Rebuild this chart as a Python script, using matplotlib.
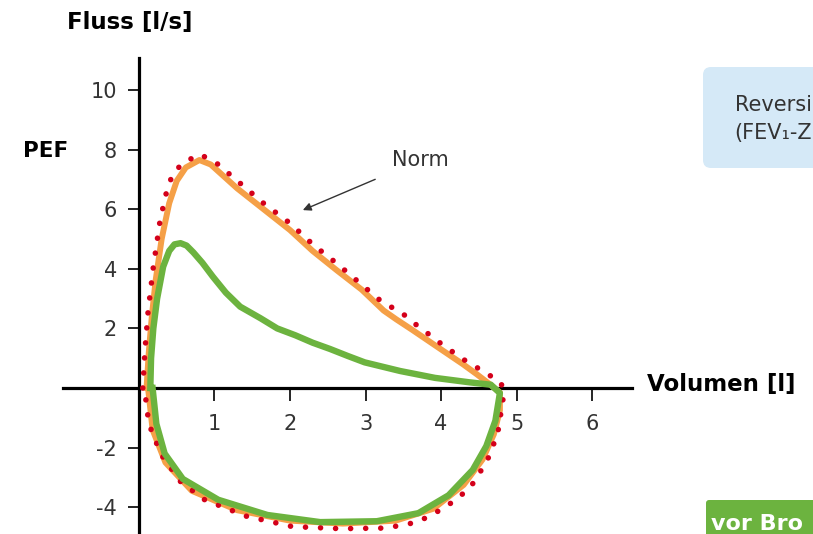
import numpy as np
import matplotlib
matplotlib.use("Agg")
from matplotlib import pyplot as plt
from matplotlib.patches import FancyBboxPatch
from matplotlib.transforms import IdentityTransform

plt.rcParams["axes.unicode_minus"] = False

# flow-volume loops (volume [l], flow [l/s])
norm_vol = [0.10, 0.13, 0.17, 0.22, 0.30, 0.40, 0.50, 0.62, 0.80, 0.95, 1.30, 1.65, 2.00,
            2.30, 2.62, 2.95, 3.24, 3.41, 3.62, 3.94, 4.29, 4.48, 4.66,
            4.78, 4.78, 4.70, 4.55, 4.30, 3.90, 3.40, 2.70, 2.00, 1.30, 0.70, 0.35, 0.18, 0.12]
norm_flow = [0.0, 1.2, 2.4, 3.6, 5.0, 6.2, 6.95, 7.4, 7.65, 7.5, 6.7, 6.0, 5.3,
             4.6, 3.95, 3.3, 2.6, 2.3, 1.95, 1.4, 0.8, 0.45, 0.1,
             -0.15, -0.75, -1.55, -2.4, -3.25, -4.05, -4.45, -4.55, -4.45, -4.1, -3.45, -2.5, -1.4, 0.0]

ref_vol = [0.05, 0.08, 0.12, 0.19, 0.28, 0.37, 0.45, 0.59, 0.81, 1.03, 1.34, 1.65, 2.00,
           2.31, 2.62, 2.93, 3.24, 3.46, 3.62, 3.78, 3.94, 4.10, 4.29, 4.48, 4.66, 4.80,
           4.82, 4.75, 4.61, 4.38, 4.06, 3.69, 3.27, 2.67, 2.03, 1.42, 0.87, 0.55, 0.29, 0.13, 0.08, 0.05]
ref_flow = [0.0, 1.3, 2.56, 4.07, 5.64, 6.64, 7.2, 7.57, 7.84, 7.54, 6.87, 6.2, 5.53,
            4.8, 4.18, 3.51, 2.84, 2.57, 2.22, 1.92, 1.6, 1.31, 0.97, 0.68, 0.4, 0.17,
            -0.4, -1.54, -2.45, -3.37, -4.0, -4.5, -4.7, -4.72, -4.65, -4.3, -3.75, -3.14, -2.22, -1.2, -0.17, 0.0]

pat_vol = [0.15, 0.16, 0.19, 0.24, 0.32, 0.40, 0.47, 0.55, 0.63, 0.72, 0.84, 0.98, 1.15, 1.34,
           1.61, 1.83, 2.07, 2.30, 2.53, 2.76, 2.99, 3.46, 3.92, 4.38, 4.66,
           4.78, 4.72, 4.60, 4.42, 4.10, 3.70, 3.15, 2.40, 1.70, 1.05, 0.58, 0.34, 0.23, 0.18]
pat_flow = [0.0, 1.0, 2.0, 3.0, 4.07, 4.6, 4.82, 4.86, 4.78, 4.55, 4.2, 3.73, 3.2, 2.73,
            2.34, 2.0, 1.77, 1.52, 1.31, 1.08, 0.86, 0.57, 0.34, 0.19, 0.11,
            -0.17, -1.1, -1.95, -2.75, -3.6, -4.2, -4.47, -4.5, -4.26, -3.75, -3.05, -2.2, -1.2, 0.0]

x_ticks = [1, 2, 3, 4, 5, 6]
y_ticks = [-4, -2, 2, 4, 6, 8, 10]

fig = plt.figure(figsize=(8.13, 5.34), dpi=100)
ax = fig.add_axes([0, 0, 1, 1])
ax.set_xlim(-1.841, 8.927)
ax.set_ylim(-4.899, 13.02)

ax.plot(norm_vol, norm_flow, color="#f5a047", lw=4.3, solid_joinstyle="round", zorder=3)
ax.plot(ref_vol, ref_flow, color="#d4001a", lw=4.0, linestyle=(0, (0.01, 2.7)),
        dash_capstyle="round", zorder=4)
ax.plot(pat_vol, pat_flow, color="#6cb33f", lw=4.6, solid_joinstyle="round", zorder=5)

for s in ["top", "right"]:
    ax.spines[s].set_visible(False)
ax.spines["left"].set_position(("data", 0))
ax.spines["bottom"].set_position(("data", 0))
ax.spines["left"].set_bounds(-4.9, 11.07)
ax.spines["bottom"].set_bounds(-1.0, 6.53)
for s in ["left", "bottom"]:
    ax.spines[s].set_linewidth(2.3)
    ax.spines[s].set_zorder(2)

ax.set_xticks(x_ticks)
ax.set_yticks(y_ticks)
ax.tick_params(axis="x", direction="out", length=9, width=1.2, pad=10,
               labelsize=15, labelcolor="#333333")
ax.tick_params(axis="y", direction="out", length=8, width=1.2, pad=8,
               labelsize=15, labelcolor="#333333")

ax.text(-0.12, 12.28, "Fluss [l/s]", fontsize=16.5, fontweight="bold", ha="center", va="center")
ax.text(-1.24, 7.96, "PEF", fontsize=15.5, fontweight="bold", ha="center", va="center")
ax.text(6.73, 0.13, "Volumen [l]", fontsize=16.5, fontweight="bold", ha="left", va="center")

ax.annotate("Norm", xy=(2.17, 5.97), xytext=(3.73, 7.65), fontsize=15, color="#333333",
            ha="center", va="center",
            arrowprops=dict(arrowstyle="-|>", color="#333333", lw=1,
                            shrinkA=12, shrinkB=0, mutation_scale=12))

# side boxes, cut off at the right edge as in the source
blue_box = FancyBboxPatch((703, 366), 200, 101, boxstyle="round,pad=0,rounding_size=8",
                          transform=IdentityTransform(), facecolor="#d5e9f7",
                          edgecolor="none", zorder=1)
ax.add_patch(blue_box)
ax.text(7.89, 9.5, "Reversi", fontsize=15, color="#333333", va="center")
ax.text(7.89, 8.55, "(FEV₁-Z", fontsize=15, color="#333333", va="center")

green_box = FancyBboxPatch((706, -20), 200, 54, boxstyle="round,pad=0,rounding_size=3",
                           transform=IdentityTransform(), facecolor="#6cb33f",
                           edgecolor="none", zorder=1)
ax.add_patch(green_box)
ax.text(7.57, -4.55, "vor Bro", fontsize=16, fontweight="bold", color="white", va="center")

fig.savefig("out.png", dpi=100)
plt.close()
